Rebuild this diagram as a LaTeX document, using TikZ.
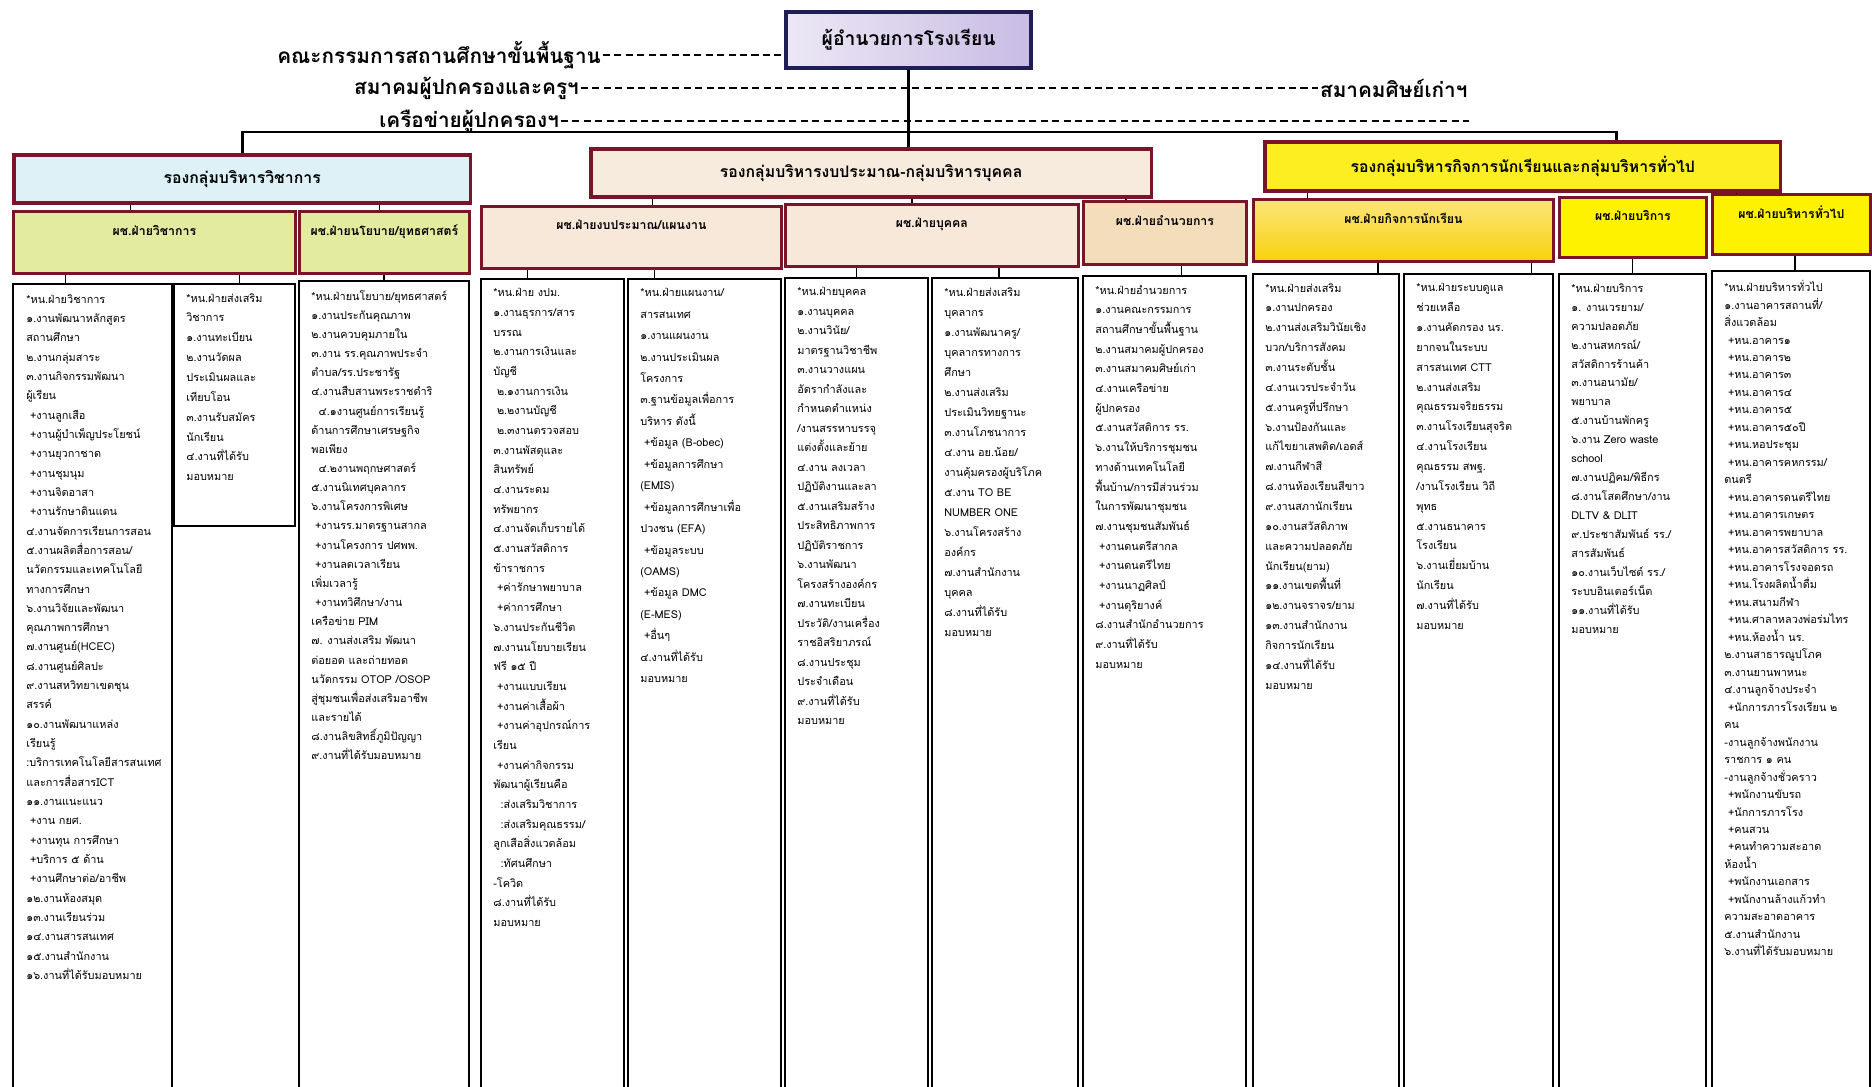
\documentclass[tikz,border=0pt]{standalone}
\usepackage{fontspec}
\newfontfamily\thai[Script=Thai]{Loma}
\usetikzlibrary{positioning}

\definecolor{bossline}{HTML}{1E1E55}
\definecolor{bossfill}{HTML}{C9BCE4}
\definecolor{groupline}{HTML}{7A1428}
\definecolor{acadfill}{HTML}{DDF1F6}
\definecolor{budgfill}{HTML}{F7EBDD}
\definecolor{studfill}{HTML}{FCEE21}
\definecolor{greenfill}{HTML}{E3EBA0}
\definecolor{peachfill}{HTML}{F7E8DA}
\definecolor{tanfill}{HTML}{F3DDBB}
\definecolor{goldfill}{HTML}{F8D10C}
\definecolor{yellowfill}{HTML}{FFF200}

\begin{document}
\begin{tikzpicture}[x=0.02cm, y=-0.02cm,
  bossbox/.style={draw=bossline, line width=2.4pt, left color=bossfill!35, right color=bossfill, anchor=north west, inner sep=0, font=\thai\bfseries\fontsize{11}{13}\selectfont},
  groupbox/.style={draw=groupline, line width=2pt, anchor=north west, inner sep=0, font=\thai\bfseries\fontsize{9}{11}\selectfont},
  wingbox/.style={draw=groupline, line width=1.6pt, anchor=north west, inner sep=0, text depth=14pt, font=\thai\bfseries\fontsize{7}{9}\selectfont},
  taskbox/.style={draw, line width=1pt, anchor=north west, inner sep=0},
  tasklist/.style={anchor=north west, inner sep=0, align=left, font=\thai\fontsize{6.2}{#1}\selectfont},
  link/.style={line width=0.9pt},
  dashlink/.style={line width=0.9pt, dash pattern=on 4pt off 2.5pt},
  sidelabel/.style={inner sep=1pt, font=\thai\bfseries\fontsize{11.8}{14}\selectfont}
]
\useasboundingbox[fill=white] (0,0) rectangle (1872,1086);

% director and the boards beside it
\node[bossbox, minimum width=4.9cm, minimum height=1.12cm] (boss) at (784,10) {ผู้อำนวยการโรงเรียน};
\node[sidelabel, anchor=east] (board) at (603,55) {คณะกรรมการสถานศึกษาขั้นพื้นฐาน};
\node[sidelabel, anchor=east] (parents) at (581,88) {สมาคมผู้ปกครองและครูฯ};
\node[sidelabel, anchor=west] (alumni) at (1318,88) {สมาคมศิษย์เก่าฯ};
\node[sidelabel, anchor=east] (network) at (561,121) {เครือข่ายผู้ปกครองฯ};
\coordinate (netend) at (1469,121);
\draw[dashlink] (board) -- (board -| boss.west);
\draw[dashlink] (parents) -- (alumni);
\draw[dashlink] (network) -- (netend);

% deputy groups
\node[groupbox, fill=acadfill, minimum width=9.14cm, minimum height=0.96cm] (g1) at (12,153) {รองกลุ่มบริหารวิชาการ};
\node[groupbox, fill=budgfill, minimum width=11.22cm, minimum height=0.96cm] (g2) at (589,147) {รองกลุ่มบริหารงบประมาณ-กลุ่มบริหารบุคคล};
\node[groupbox, fill=studfill, minimum width=10.32cm, minimum height=0.98cm] (g3) at (1263,140) {รองกลุ่มบริหารกิจการนักเรียนและกลุ่มบริหารทั่วไป};

\coordinate (bus) at (boss.south |- 0,132);
\draw[link, line width=1.5pt] (boss.south) -- (boss.south |- g2.north);
\draw[link, line width=1.5pt] (g1.north) |- (bus) -| ([xshift=1.88cm]g3.north);

% assistant heads
\node[wingbox, fill=greenfill, minimum width=5.64cm, minimum height=1.24cm] (a1) at (12,210) {ผช.ฝ่ายวิชาการ};
\node[wingbox, fill=greenfill, minimum width=3.40cm, minimum height=1.24cm] (a2) at (298,210) {ผช.ฝ่ายนโยบาย/ยุทธศาสตร์};
\node[wingbox, fill=peachfill, minimum width=6.00cm, minimum height=1.24cm] (b1) at (480,205) {ผช.ฝ่ายงบประมาณ/แผนงาน};
\node[wingbox, fill=peachfill, minimum width=5.86cm, minimum height=1.24cm] (b2) at (784,203) {ผช.ฝ่ายบุคคล};
\node[wingbox, fill=tanfill, minimum width=3.26cm, minimum height=1.26cm] (b3) at (1082,200) {ผช.ฝ่ายอำนวยการ};
\node[wingbox, top color=goldfill!55, bottom color=goldfill, minimum width=6.00cm, minimum height=1.24cm] (c1) at (1252,198) {ผช.ฝ่ายกิจการนักเรียน};
\node[wingbox, fill=yellowfill, minimum width=2.94cm, minimum height=1.20cm] (c2) at (1558,196) {ผช.ฝ่ายบริการ};
\node[wingbox, fill=yellowfill, minimum width=3.16cm, minimum height=1.20cm] (c3) at (1711,193) {ผช.ฝ่ายบริหารทั่วไป};

% drops, shifted (in px) from the child's centre
\foreach \up/\down/\dx in {g1/a1/-24, g1/a2/-5, g2/b1/21, g2/b2/-20, g2/b3/-39, g3/c1/-96, g3/c3/-55}
  \draw[link] ([xshift=\dx*0.02cm]\down.north) -- ([xshift=\dx*0.02cm]\down.north |- \up.south);

% task columns
\node[taskbox, minimum width=3.18cm, minimum height=16.2cm] (col1) at (12,283) {};
\node[taskbox, minimum width=2.42cm, minimum height=4.84cm] (col2) at (173,283) {};
\node[taskbox, minimum width=3.40cm, minimum height=16.3cm] (col3) at (298,280) {};
\node[taskbox, minimum width=2.86cm, minimum height=16.3cm] (col4) at (480,278) {};
\node[taskbox, minimum width=3.06cm, minimum height=16.3cm] (col5) at (627,278) {};
\node[taskbox, minimum width=2.86cm, minimum height=16.3cm] (col6) at (784,277) {};
\node[taskbox, minimum width=2.92cm, minimum height=16.3cm] (col7) at (931,277) {};
\node[taskbox, minimum width=3.26cm, minimum height=16.3cm] (col8) at (1082,275) {};
\node[taskbox, minimum width=2.92cm, minimum height=16.3cm] (col9) at (1252,273) {};
\node[taskbox, minimum width=2.98cm, minimum height=16.3cm] (col10) at (1403,273) {};
\node[taskbox, minimum width=2.94cm, minimum height=16.3cm] (col11) at (1558,273) {};
\node[taskbox, minimum width=3.16cm, minimum height=16.4cm] (col12) at (1711,270) {};

\foreach \up/\down/\dx in {a1/col1/-27, a1/col2/5, a2/col3/0, b1/col4/-25, b1/col5/-50, b2/col6/0, b2/col7/-6, b3/col8/17, c1/col9/52, c1/col10/53, c2/col11/0, c3/col12/4}
  \draw[link] ([xshift=\dx*0.02cm]\down.north) -- ([xshift=\dx*0.02cm]\down.north |- \up.south);

\node[tasklist=11pt, below right=0.22cm and 0.28cm of col1.north west] (list1) {*หน.ฝ่ายวิชาการ\\๑.งานพัฒนาหลักสูตร\\สถานศึกษา\\๒.งานกลุ่มสาระ\\๓.งานกิจกรรมพัฒนา\\ผู้เรียน\\~+งานลูกเสือ\\~+งานผู้บำเพ็ญประโยชน์\\~+งานยุวกาชาด\\~+งานชุมนุม\\~+งานจิตอาสา\\~+งานรักษาดินแดน\\๔.งานจัดการเรียนการสอน\\๕.งานผลิตสื่อการสอน/\\นวัตกรรมและเทคโนโลยี\\ทางการศึกษา\\๖.งานวิจัยและพัฒนา\\คุณภาพการศึกษา\\๗.งานศูนย์(HCEC)\\๘.งานศูนย์ศิลปะ\\๙.งานสหวิทยาเขตชุน\\สรรค์\\๑๐.งานพัฒนาแหล่ง\\เรียนรู้\\:บริการเทคโนโลยีสารสนเทศ\\และการสื่อสารICT\\๑๑.งานแนะแนว\\~+งาน กยศ.\\~+งานทุน การศึกษา\\~+บริการ ๕ ด้าน\\~+งานศึกษาต่อ/อาชีพ\\๑๒.งานห้องสมุด\\๑๓.งานเรียนร่วม\\๑๔.งานสารสนเทศ\\๑๕.งานสำนักงาน\\๑๖.งานที่ได้รับมอบหมาย};
\node[tasklist=11.3pt, below right=0.2cm and 0.26cm of col2.north west] (list2) {*หน.ฝ่ายส่งเสริม\\วิชาการ\\๑.งานทะเบียน\\๒.งานวัดผล\\ประเมินผลและ\\เทียบโอน\\๓.งานรับสมัคร\\นักเรียน\\๔.งานที่ได้รับ\\มอบหมาย};
\node[tasklist=10.9pt, below right=0.2cm and 0.26cm of col3.north west] (list3) {*หน.ฝ่ายนโยบาย/ยุทธศาสตร์\\๑.งานประกันคุณภาพ\\๒.งานควบคุมภายใน\\๓.งาน รร.คุณภาพประจำ\\ตำบล/รร.ประชารัฐ\\๔.งานสืบสานพระราชดำริ\\~~๔.๑งานศูนย์การเรียนรู้\\ด้านการศึกษาเศรษฐกิจ\\พอเพียง\\~~๔.๒งานพฤกษศาสตร์\\๕.งานนิเทศบุคลากร\\๖.งานโครงการพิเศษ\\~+งานรร.มาตรฐานสากล\\~+งานโครงการ ปศพพ.\\~+งานลดเวลาเรียน\\เพิ่มเวลารู้\\~+งานทวิศึกษา/งาน\\เครือข่าย PIM\\๗. งานส่งเสริม พัฒนา\\ต่อยอด และถ่ายทอด\\นวัตกรรม OTOP /OSOP\\สู่ชุมชนเพื่อส่งเสริมอาชีพ\\และรายได้\\๘.งานลิขสิทธิ์ภูมิปัญญา\\๙.งานที่ได้รับมอบหมาย};
\node[tasklist=11.2pt, below right=0.2cm and 0.26cm of col4.north west] (list4) {*หน.ฝ่าย งปม.\\๑.งานธุรการ/สาร\\บรรณ\\๒.งานการเงินและ\\บัญชี\\~๒.๑งานการเงิน\\~๒.๒งานบัญชี\\~๒.๓งานตรวจสอบ\\๓.งานพัสดุและ\\สินทรัพย์\\๔.งานระดม\\ทรัพยากร\\๔.งานจัดเก็บรายได้\\๕.งานสวัสดิการ\\ข้าราชการ\\~+ค่ารักษาพยาบาล\\~+ค่าการศึกษา\\๖.งานประกันชีวิต\\๗.งานนโยบายเรียน\\ฟรี ๑๕ ปี\\~+งานแบบเรียน\\~+งานค่าเสื้อผ้า\\~+งานค่าอุปกรณ์การ\\เรียน\\~+งานค่ากิจกรรม\\พัฒนาผู้เรียนคือ\\~~:ส่งเสริมวิชาการ\\~~:ส่งเสริมคุณธรรม/\\ลูกเสือสิ่งแวดล้อม\\~~:ทัศนศึกษา\\-โควิด\\๘.งานที่ได้รับ\\มอบหมาย};
\node[tasklist=12.2pt, below right=0.2cm and 0.26cm of col5.north west] (list5) {*หน.ฝ่ายแผนงาน/\\สารสนเทศ\\๑.งานแผนงาน\\๒.งานประเมินผล\\โครงการ\\๓.ฐานข้อมูลเพื่อการ\\บริหาร ดังนี้\\~+ข้อมูล (B-obec)\\~+ข้อมูลการศึกษา\\(EMIS)\\~+ข้อมูลการศึกษาเพื่อ\\ปวงชน (EFA)\\~+ข้อมูลระบบ\\(OAMS)\\~+ข้อมูล DMC\\(E-MES)\\~+อื่นๆ\\๔.งานที่ได้รับ\\มอบหมาย};
\node[tasklist=11.1pt, below right=0.2cm and 0.26cm of col6.north west] (list6) {*หน.ฝ่ายบุคคล\\๑.งานบุคคล\\๒.งานวินัย/\\มาตรฐานวิชาชีพ\\๓.งานวางแผน\\อัตรากำลังและ\\กำหนดตำแหน่ง\\/งานสรรหาบรรจุ\\แต่งตั้งและย้าย\\๔.งาน ลงเวลา\\ปฏิบัติงานและลา\\๕.งานเสริมสร้าง\\ประสิทธิภาพการ\\ปฏิบัติราชการ\\๖.งานพัฒนา\\โครงสร้างองค์กร\\๗.งานทะเบียน\\ประวัติ/งานเครื่อง\\ราชอิสริยาภรณ์\\๘.งานประชุม\\ประจำเดือน\\๙.งานที่ได้รับ\\มอบหมาย};
\node[tasklist=11.4pt, below right=0.2cm and 0.26cm of col7.north west] (list7) {*หน.ฝ่ายส่งเสริม\\บุคลากร\\๑.งานพัฒนาครู/\\บุคลากรทางการ\\ศึกษา\\๒.งานส่งเสริม\\ประเมินวิทยฐานะ\\๓.งานโภชนาการ\\๔.งาน อย.น้อย/\\งานคุ้มครองผู้บริโภค\\๕.งาน TO BE\\NUMBER ONE\\๖.งานโครงสร้าง\\องค์กร\\๗.งานสำนักงาน\\บุคคล\\๘.งานที่ได้รับ\\มอบหมาย};
\node[tasklist=11.2pt, below right=0.2cm and 0.26cm of col8.north west] (list8) {*หน.ฝ่ายอำนวยการ\\๑.งานคณะกรรมการ\\สถานศึกษาขั้นพื้นฐาน\\๒.งานสมาคมผู้ปกครอง\\๓.งานสมาคมศิษย์เก่า\\๔.งานเครือข่าย\\ผู้ปกครอง\\๕.งานสวัสดิการ รร.\\๖.งานให้บริการชุมชน\\ทางด้านเทคโนโลยี\\พื้นบ้าน/การมีส่วนร่วม\\ในการพัฒนาชุมชน\\๗.งานชุมชนสัมพันธ์\\~+งานดนตรีสากล\\~+งานดนตรีไทย\\~+งานนาฏศิลป์\\~+งานดุริยางค์\\๘.งานสำนักอำนวยการ\\๙.งานที่ได้รับ\\มอบหมาย};
\node[tasklist=11.3pt, below right=0.2cm and 0.26cm of col9.north west] (list9) {*หน.ฝ่ายส่งเสริม\\๑.งานปกครอง\\๒.งานส่งเสริมวินัยเชิง\\บวก/บริการสังคม\\๓.งานระดับชั้น\\๔.งานเวรประจำวัน\\๕.งานครูที่ปรึกษา\\๖.งานป้องกันและ\\แก้ไขยาเสพติด/เอดส์\\๗.งานกีฬาสี\\๘.งานห้องเรียนสีขาว\\๙.งานสภานักเรียน\\๑๐.งานสวัสดิภาพ\\และความปลอดภัย\\นักเรียน(ยาม)\\๑๑.งานเขตพื้นที่\\๑๒.งานจราจร/ยาม\\๑๓.งานสำนักงาน\\กิจการนักเรียน\\๑๔.งานที่ได้รับ\\มอบหมาย};
\node[tasklist=11.3pt, below right=0.2cm and 0.26cm of col10.north west] (list10) {*หน.ฝ่ายระบบดูแล\\ช่วยเหลือ\\๑.งานคัดกรอง นร.\\ยากจนในระบบ\\สารสนเทศ CTT\\๒.งานส่งเสริม\\คุณธรรมจริยธรรม\\๓.งานโรงเรียนสุจริต\\๔.งานโรงเรียน\\คุณธรรม สพฐ.\\/งานโรงเรียน วิถี\\พุทธ\\๕.งานธนาคาร\\โรงเรียน\\๖.งานเยี่ยมบ้าน\\นักเรียน\\๗.งานที่ได้รับ\\มอบหมาย};
\node[tasklist=10.8pt, below right=0.2cm and 0.26cm of col11.north west] (list11) {*หน.ฝ่ายบริการ\\๑. งานเวรยาม/\\ความปลอดภัย\\๒.งานสหกรณ์/\\สวัสดิการร้านค้า\\๓.งานอนามัย/\\พยาบาล\\๕.งานบ้านพักครู\\๖.งาน Zero waste\\school\\๗.งานปฏิคม/พิธีกร\\๘.งานโสตศึกษา/งาน\\DLTV \& DLIT\\๙.ประชาสัมพันธ์ รร./\\สารสัมพันธ์\\๑๐.งานเว็บไซต์ รร./\\ระบบอินเตอร์เน็ต\\๑๑.งานที่ได้รับ\\มอบหมาย};
\node[tasklist=9.95pt, below right=0.2cm and 0.26cm of col12.north west] (list12) {*หน.ฝ่ายบริหารทั่วไป\\๑.งานอาคารสถานที่/\\สิ่งแวดล้อม\\~+หน.อาคาร๑\\~+หน.อาคาร๒\\~+หน.อาคาร๓\\~+หน.อาคาร๔\\~+หน.อาคาร๕\\~+หน.อาคาร๕๐ปี\\~+หน.หอประชุม\\~+หน.อาคารคหกรรม/\\ดนตรี\\~+หน.อาคารดนตรีไทย\\~+หน.อาคารเกษตร\\~+หน.อาคารพยาบาล\\~+หน.อาคารสวัสดิการ รร.\\~+หน.อาคารโรงจอดรถ\\~+หน.โรงผลิตน้ำดื่ม\\~+หน.สนามกีฬา\\~+หน.ศาลาหลวงพ่อร่มไทร\\~+หน.ห้องน้ำ นร.\\๒.งานสาธารณูปโภค\\๓.งานยานพาหนะ\\๔.งานลูกจ้างประจำ\\~+นักการภารโรงเรียน ๒\\คน\\-งานลูกจ้างพนักงาน\\ราชการ ๑ คน\\-งานลูกจ้างชั่วคราว\\~+พนักงานขับรถ\\~+นักการภารโรง\\~+คนสวน\\~+คนทำความสะอาด\\ห้องน้ำ\\~+พนักงานเอกสาร\\~+พนักงานล้างแก้วทำ\\ความสะอาดอาคาร\\๕.งานสำนักงาน\\๖.งานที่ได้รับมอบหมาย};
\end{tikzpicture}
\end{document}
